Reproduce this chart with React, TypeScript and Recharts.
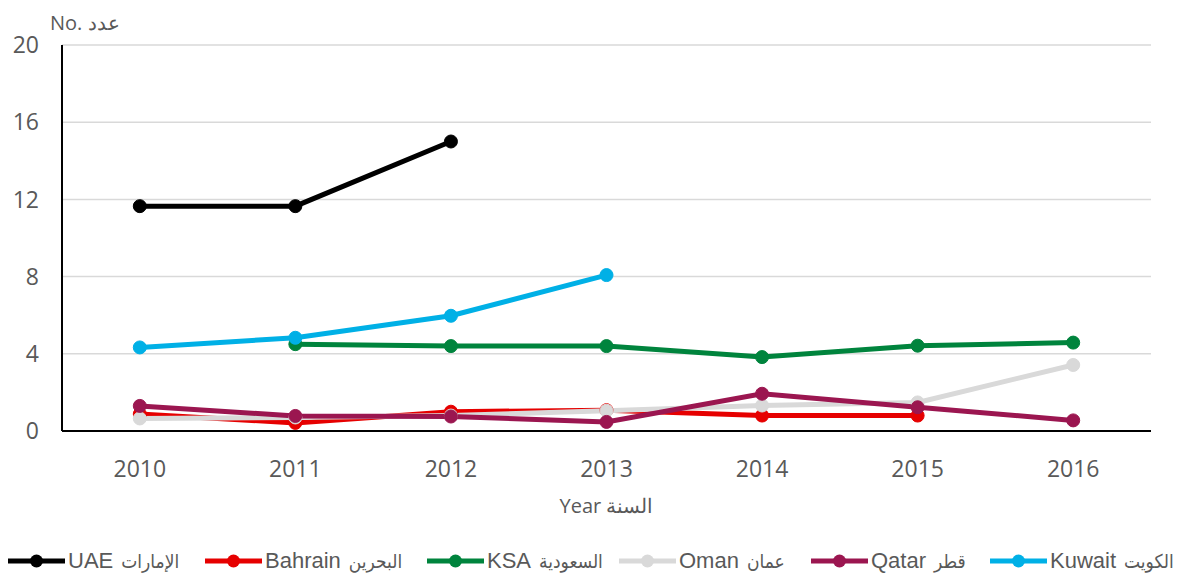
import React from 'react';
import { LineChart, Line, XAxis, YAxis, CartesianGrid, Legend, Label } from 'recharts';

const years = ['2010', '2011', '2012', '2013', '2014', '2015', '2016'];
const uae = [11.65, 11.65, 15.0, null, null, null, null];
const bahrain = [0.88, 0.42, 1.0, 1.08, 0.8, 0.8, null];
const ksa = [null, 4.5, 4.4, 4.4, 3.83, 4.42, 4.58];
const oman = [0.65, 0.7, 0.8, 1.05, 1.32, 1.48, 3.42];
const qatar = [1.3, 0.78, 0.75, 0.47, 1.93, 1.23, 0.55];
const kuwait = [4.33, 4.83, 5.97, 8.08, null, null, null];
const yTicks = [0, 4, 8, 12, 16, 20];

const series = [
  { key: 'uae', en: 'UAE', ar: 'الإمارات', color: '#000000', values: uae },
  { key: 'bahrain', en: 'Bahrain', ar: 'البحرين', color: '#E60000', values: bahrain },
  { key: 'ksa', en: 'KSA', ar: 'السعودية', color: '#00843D', values: ksa },
  { key: 'oman', en: 'Oman', ar: 'عمان', color: '#D9D9D9', values: oman },
  { key: 'qatar', en: 'Qatar', ar: 'قطر', color: '#9B1650', values: qatar },
  { key: 'kuwait', en: 'Kuwait', ar: 'الكويت', color: '#00B0E6', values: kuwait },
];
const legendWidths = [197, 222, 192, 192, 179, 200];

const data = years.map((y, i) => {
  const row: any = { year: y };
  series.forEach((s) => {
    row[s.key] = s.values[i];
  });
  return row;
});

const TEXT = '#595959';
const AXIS_FONT = '"Open Sans", sans-serif';

const LegendContent = () => (
  <div style={{ display: 'flex', flexDirection: 'row', alignItems: 'center', fontFamily: '"Liberation Sans", Arial, sans-serif', fontSize: 22, color: TEXT, whiteSpace: 'nowrap' }}>
    {series.map((s, i) => (
      <div key={s.key} style={{ display: 'flex', alignItems: 'center', width: legendWidths[i], flex: 'none' }}>
        <svg width={57} height={16} style={{ flex: 'none' }}>
          <line x1={0} y1={8} x2={57} y2={8} stroke={s.color} strokeWidth={5} />
          <circle cx={28.5} cy={8} r={6.5} fill={s.color} />
        </svg>
        <span style={{ marginLeft: 3 }}>{s.en}</span>
        <span style={{ marginLeft: 8, fontFamily: '"DejaVu Sans Condensed", "DejaVu Sans", sans-serif', fontSize: 19 }}>{s.ar}</span>
      </div>
    ))}
  </div>
);

export default function App() {
  return (
    <LineChart width={1180} height={565} data={data} margin={{ top: 37, right: 37, left: 0, bottom: 102 }}>
      <CartesianGrid horizontal vertical={false} stroke="#D9D9D9" strokeWidth={1.5} />
      <XAxis
        dataKey="year"
        padding={{ left: 77.8, right: 77.8 }}
        axisLine={{ stroke: '#000', strokeWidth: 2 }}
        tickLine={false}
        tickMargin={24}
        height={40}
        tick={{ fill: TEXT, fontSize: 23, fontFamily: AXIS_FONT }}
      >
        <Label value="Year السنة" position="bottom" offset={28} fill={TEXT} fontSize={20} fontFamily={AXIS_FONT} />
      </XAxis>
      <YAxis
        domain={[0, 20]}
        ticks={yTicks}
        width={54}
        axisLine={{ stroke: '#000', strokeWidth: 2 }}
        tickLine={false}
        tickMargin={17}
        tick={{ fill: TEXT, fontSize: 23, fontFamily: AXIS_FONT }}
      >
        <Label
          content={() => (
            <text x={42} y={17} fill={TEXT} fontSize={20} fontFamily={AXIS_FONT} dominantBaseline="middle">
              No. عدد
            </text>
          )}
        />
      </YAxis>
      {series.map((s) => (
        <Line
          key={s.key}
          dataKey={s.key}
          name={s.en + ' ' + s.ar}
          stroke={s.color}
          strokeWidth={5}
          dot={{ r: 6.5, fill: s.color, stroke: s.color, strokeWidth: 1 }}
          activeDot={false}
          isAnimationActive={false}
          connectNulls={false}
        />
      ))}
      <Legend
        layout="horizontal"
        verticalAlign="middle"
        content={<LegendContent />}
        wrapperStyle={{ position: 'absolute', top: 540, left: 0, width: 1186, height: 30 }}
      />
    </LineChart>
  );
}
